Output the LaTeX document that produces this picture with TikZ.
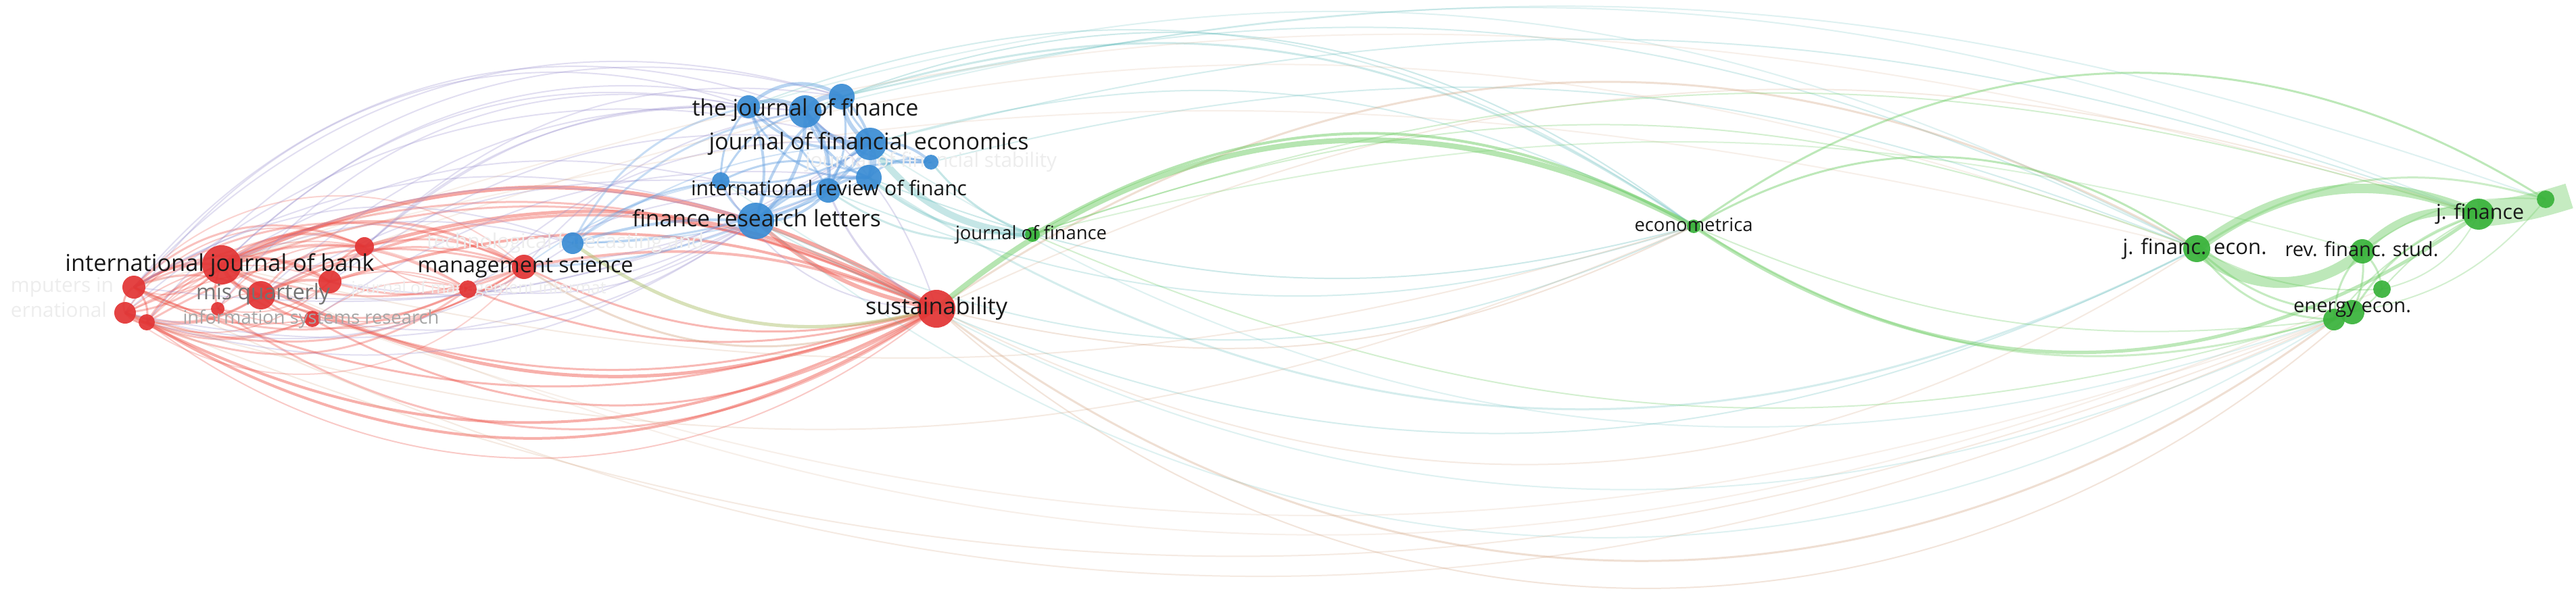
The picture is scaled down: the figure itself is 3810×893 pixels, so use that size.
\documentclass[tikz,border=0pt]{standalone}
\usepackage{fontspec}
\setmainfont{Open Sans}
\usepackage{graphicx}
\newdimen\pxu \pxu=0.2pt
\newcommand{\lt}[2]{\resizebox{#1\pxu}{!}{#2\vphantom{hg}}}
\newcommand{\nd}[4]{\node[#1,minimum size={#4*0.4pt}] (#2) at (#3) {};}
\definecolor{nR}{RGB}{226,52,52}
\definecolor{nB}{RGB}{58,140,212}
\definecolor{nG}{RGB}{56,178,58}
\definecolor{eR}{RGB}{238,80,70}
\definecolor{eB}{RGB}{100,160,225}
\definecolor{eG}{RGB}{110,205,100}
\definecolor{eP}{RGB}{150,140,205}
\definecolor{eT}{RGB}{90,185,185}
\definecolor{eO}{RGB}{205,150,110}
\definecolor{eY}{RGB}{170,190,100}
\definecolor{txt}{RGB}{25,25,25}
\pgfdeclarelayer{bg}\pgfdeclarelayer{edges}\pgfdeclarelayer{faint}
\pgfsetlayers{bg,edges,faint,main}
\begin{document}
\begin{tikzpicture}[x=0.2pt,y=-0.2pt,
  nd/.style={circle,inner sep=0pt,draw=none,fill opacity=0.92},
  rn/.style={nd,fill=nR}, bn/.style={nd,fill=nB}, gn/.style={nd,fill=nG},
  lbl/.style={inner sep=0pt,text=txt},
  flbl/.style={inner sep=0pt,text=black!7},
  edge/.style={line cap=butt}]
\begin{pgfonlayer}{bg}
\fill[white] (0,0) rectangle (3810,893);
\end{pgfonlayer}
\useasboundingbox (0,0) rectangle (3810,893);
% red cluster
\nd{rn}{r1}{328,392}{29}
\nd{rn}{r2}{198,425}{17}
\nd{rn}{r3}{185,463}{16}
\nd{rn}{r4}{217,477}{12}
\nd{rn}{r5}{322,457}{10}
\nd{rn}{r6}{386,437}{21}
\nd{rn}{r7}{488,417}{17}
\nd{rn}{r8}{539,365}{14}
\nd{rn}{r9}{462,472}{12}
\nd{rn}{r10}{692,428}{13}
\nd{rn}{r11}{775,395}{18}
\nd{rn}{s}{1385,457}{28}
% blue cluster
\nd{bn}{b1}{847,360}{16}
\nd{bn}{b3}{1107,158}{17}
\nd{bn}{b4}{1191,165}{24}
\nd{bn}{b5}{1245,143}{19}
\nd{bn}{b6}{1287,213}{24}
\nd{bn}{b7}{1285,263}{19}
\nd{bn}{b8}{1225,282}{18}
\nd{bn}{b9}{1066,268}{13}
\nd{bn}{b10}{1377,240}{11}
\nd{bn}{b2}{1118,327}{27}
% green cluster
\nd{gn}{g1}{1527,347}{11}
\nd{gn}{g2}{2505,335}{10}
\nd{gn}{g3}{3249,368}{20}
\nd{gn}{g4}{3494,372}{18}
\nd{gn}{g5}{3666,317}{23}
\nd{gn}{g6}{3765,295}{13}
\nd{gn}{g7}{3523,428}{13}
\nd{gn}{g8}{3452,473}{16}
\nd{gn}{g9}{3479,462}{18}
\coordinate (tipR) at (3800,290);

\begin{pgfonlayer}{edges}
% red internal
\foreach \a/\b/\c/\w/\o in {r2/r1/20/4/.4, r2/r6/25/3/.35, r2/r7/30/3/.35, r2/r8/35/3/.35, r2/r11/28/3/.35, r2/r10/-25/3/.35, r2/r9/-20/2/.35,
 r3/r1/-20/3/.35, r3/r6/-25/3/.35, r3/r7/30/2/.3, r3/r11/-25/3/.35, r3/r10/20/2/.3, r3/r9/-25/3/.35, r3/r8/40/2/.3,
 r4/r1/20/3/.35, r4/r6/-20/3/.35, r4/r7/-30/2/.3, r4/r11/22/3/.35, r4/r10/-30/3/.35, r4/r9/-20/2/.35, r4/r8/30/2/.3,
 r1/r6/-30/5/.4, r1/r7/25/4/.4, r1/r8/30/4/.4, r1/r9/-25/3/.35, r1/r10/25/3/.35, r1/r11/30/4/.4, r1/r11/-20/3/.35,
 r5/r11/-25/2/.3, r5/r8/30/2/.3, r5/r7/-25/2/.3, r6/r11/25/3/.35, r6/r10/-25/3/.35, r6/r8/30/3/.35, r7/r11/-20/3/.35,
 r7/r10/20/2/.3, r8/r11/20/3/.35, r9/r11/-20/2/.3, r9/r10/25/2/.3, r10/r11/-30/3/.35, r8/r10/-25/2/.3, r2/r4/30/3/.4,
 r2/r3/-40/3/.4, r1/r5/-20/3/.4, r6/r7/20/4/.4, r6/r9/-20/3/.4, r2/r5/-20/2/.3, r3/r4/-30/3/.4, r1/r2/40/2/.3,
 r5/r6/30/2/.3, r7/r8/30/3/.4, r2/r11/45/2/.25, r3/r11/-45/2/.25, r4/r10/40/2/.25}
  \draw[edge,draw=eR,line width={\w*0.2pt},draw opacity=\o] (\a.center) to[bend left=\c] (\b.center);
% red to sustainability
\foreach \a/\b/\c/\w/\o in {r1/s/28/6/.5, r1/s/-25/5/.45, r2/s/-22/3/.4, r3/s/-28/4/.45, r4/s/-32/4/.45, r6/s/-20/3/.4,
 r7/s/20/4/.45, r8/s/22/5/.45, r9/s/-30/3/.4, r10/s/-18/3/.4, r11/s/-20/3/.4, r11/s/16/4/.4, r5/s/-35/3/.35,
 r3/s/26/3/.35, r2/s/24/3/.35, r6/s/26/4/.4, r4/s/-38/2/.3}
  \draw[edge,draw=eR,line width={\w*0.2pt},draw opacity=\o] (\a.center) to[bend left=\c] (\b.center);
% red to blue
\foreach \a/\b/\c in {r1/b3/28, r1/b4/30, r2/b5/32, r3/b6/28, r6/b4/24, r7/b3/24, r2/b2/24, r1/b2/20, r8/b4/24,
 r4/b5/34, r11/b4/20, r10/b6/24, r3/b2/-20, r2/b8/-15, r4/b2/-25, r6/b9/16, r1/b9/22, r9/b7/20, r5/b3/32, r7/b6/22,
 r8/b5/26, r2/b4/36, r3/b3/38, r6/b6/-18, r9/b2/-22, r10/b8/16, r11/b6/-15, r7/b2/-18, r2/b1/26, r3/b1/-25, r1/b1/18, r10/b2/-20}
  \draw[edge,draw=eP,line width=0.4pt,draw opacity=.28] (\a.center) to[bend left=\c] (\b.center);
% blue internal
\foreach \a/\b/\c/\w/\o in {b1/b2/10/4/.45, b1/b9/15/3/.4, b1/b8/-10/3/.4, b1/b4/20/3/.35, b1/b3/25/3/.35, b1/b6/15/2/.3,
 r11/b2/-10/3/.35, r11/b9/12/2/.3, b1/b7/-12/2/.3,
 b3/b4/30/6/.45, b3/b5/40/5/.45, b4/b5/30/7/.45, b4/b6/-30/8/.45, b5/b6/-25/6/.45, b3/b6/-30/4/.45, b6/b7/30/6/.45,
 b4/b7/-25/4/.45, b3/b2/20/4/.45, b4/b2/25/5/.45, b5/b2/-20/4/.45, b6/b2/20/5/.45, b7/b2/-25/4/.45, b8/b2/25/4/.45,
 b9/b2/-20/3/.45, b9/b4/25/3/.45, b9/b6/-20/3/.45, b8/b6/25/4/.45, b8/b4/-20/4/.45, b10/b6/-25/4/.45, b10/b5/30/3/.45,
 b10/b2/-20/3/.45, b10/b4/25/3/.45, b7/b10/30/3/.45, b3/b9/-20/3/.45, b3/b8/15/3/.45, b5/b8/20/3/.45, b9/b7/25/3/.45,
 b8/b7/20/4/.45, b9/b8/-20/3/.45, b3/b7/-35/3/.45, b5/b7/30/4/.45, b4/b8/25/3/.45}
  \draw[edge,draw=eB,line width={\w*0.2pt},draw opacity=\o] (\a.center) to[bend left=\c] (\b.center);
% blue to sustainability
\draw[edge,draw=eR,line width=1.2pt,draw opacity=.45] (b2.center) to[bend left=-15] (s.center);
\draw[edge,draw=eP,line width=0.6pt,draw opacity=.35] (b8.center) to[bend left=-20] (s.center);
\draw[edge,draw=eP,line width=0.4pt,draw opacity=.3] (b4.center) to[bend left=15] (s.center);
\draw[edge,draw=eP,line width=0.4pt,draw opacity=.3] (b9.center) to[bend left=-30] (s.center);
\draw[edge,draw=eY,line width=1pt,draw opacity=.45] (b1.center) to[bend left=-25] (s.center);
\draw[edge,draw=eO,line width=0.6pt,draw opacity=.35] (r11.center) to[bend left=-28] (s.center);
% blue to green
\foreach \a/\b/\c/\w/\o in {b6/g1/-25/10/.35, b7/g1/-20/4/.35, b10/g1/-15/3/.35, b8/g1/-22/3/.3,
 b4/g2/30/2/.3, b5/g2/26/3/.3, b3/g2/28/2/.25, b6/g2/22/2/.25,
 b5/g3/20/2/.25, b3/g3/22/2/.2, b6/g5/17/2/.25, b4/g5/18/2/.2, b5/g6/16/2/.2, b10/g3/18/2/.25,
 b2/g2/-25/2/.25, b8/g2/-20/2/.25, b7/g3/-30/3/.25, b2/g3/-28/2/.25, b9/g9/-30/2/.2, b2/g8/-35/2/.2,
 b6/g9/-26/2/.2, b7/g2/-18/2/.3}
  \draw[edge,draw=eT,line width={\w*0.2pt},draw opacity=\o] (\a.center) to[bend left=\c] (\b.center);
% red to green
\foreach \a/\b/\c/\w/\o in {s/g3/32/3/.3, s/g8/-37/3/.3, s/g9/-42/2/.25, s/g2/-20/2/.25, s/g3/-30/2/.2, s/g5/22/2/.2,
 r1/g2/-15/2/.2, r3/g2/-20/2/.2, r2/g8/-25/2/.2, r3/g9/-22/2/.2, r1/g7/-24/2/.15, r6/g8/-20/2/.15, r8/g3/20/2/.15,
 r1/g5/18/2/.15, r2/g3/15/2/.15}
  \draw[edge,draw=eO,line width={\w*0.2pt},draw opacity=\o] (\a.center) to[bend left=\c] (\b.center);
% green
\foreach \a/\b/\c/\w/\o in {s/g2/34/8/.5, g1/g2/30/4/.5,
 g3/g5/30/14/.45, g3/g4/-42/16/.45, g4/g5/28/12/.45, g3/g9/-20/3/.4, g3/g8/-25/3/.4, g3/g7/-15/2/.35,
 g4/g8/-20/3/.4, g4/g9/15/3/.4, g4/g7/20/3/.4, g5/g9/-20/3/.4, g5/g8/-15/2/.35, g5/g7/-10/2/.35, g7/g9/15/2/.4,
 g8/g9/20/3/.4, g3/g6/25/3/.35, g4/g6/20/2/.3, g7/g5/-25/2/.3, g9/g6/-20/2/.3,
 g2/g6/34/3/.45, g2/g3/33/3/.45, g2/g5/-35/5/.45, g2/g9/-25/3/.35, g2/g8/-15/2/.3,
 g1/g3/20/2/.3, g1/g5/18/2/.3, g1/g9/-20/2/.3, g1/g4/15/2/.25}
  \draw[edge,draw=eG,line width={\w*0.2pt},draw opacity=\o] (\a.center) to[bend left=\c] (\b.center);
\draw[edge,draw=eG,line width=7.6pt,draw opacity=.4] (g5.center) to[bend left=-6] (tipR);
\end{pgfonlayer}

\begin{pgfonlayer}{faint}
\node[flbl,anchor=west] (F1) at (15,425) {\lt{152}{mputers in}};
\node[flbl,anchor=west] (F2) at (15,462) {\lt{142}{ernational}};
\node[flbl] (F3) at (836,360) {\lt{410}{technological forecasting and}};
\node[flbl] (F4) at (708,428) {\lt{377}{journal of management informat}};
\node[flbl] (F5) at (1377,240) {\lt{372}{journal of financial stability}};
\end{pgfonlayer}

% labels
\node[lbl] (L1) at (325,392) {\lt{457}{international journal of bank}};
\node[lbl,text=black!55] (L2) at (389,435) {\lt{198}{mis quarterly}};
\node[lbl,text=black!35] (L3) at (460,472) {\lt{379}{information systems research}};
\node[lbl] (L4) at (777,395) {\lt{319}{management science}};
\node[lbl] (L5) at (1191,163) {\lt{335}{the journal of finance}};
\node[lbl] (L6) at (1285,213) {\lt{473}{journal of financial economics}};
\node[lbl] (L7) at (1226,282) {\lt{408}{international review of financ}};
\node[lbl] (L8) at (1119,327) {\lt{368}{finance research letters}};
\node[lbl] (L9) at (1385,457) {\lt{210}{sustainability}};
\node[lbl] (L10) at (1525,347) {\lt{224}{journal of finance}};
\node[lbl] (L11) at (2505,335) {\lt{175}{econometrica}};
\node[lbl] (L12) at (3246,368) {\lt{213}{j. financ. econ.}};
\node[lbl] (L13) at (3493,372) {\lt{227}{rev. financ. stud.}};
\node[lbl] (L14) at (3668,317) {\lt{130}{j. finance}};
\node[lbl] (L15) at (3479,455) {\lt{174}{energy econ.}};
\end{tikzpicture}
\end{document}
